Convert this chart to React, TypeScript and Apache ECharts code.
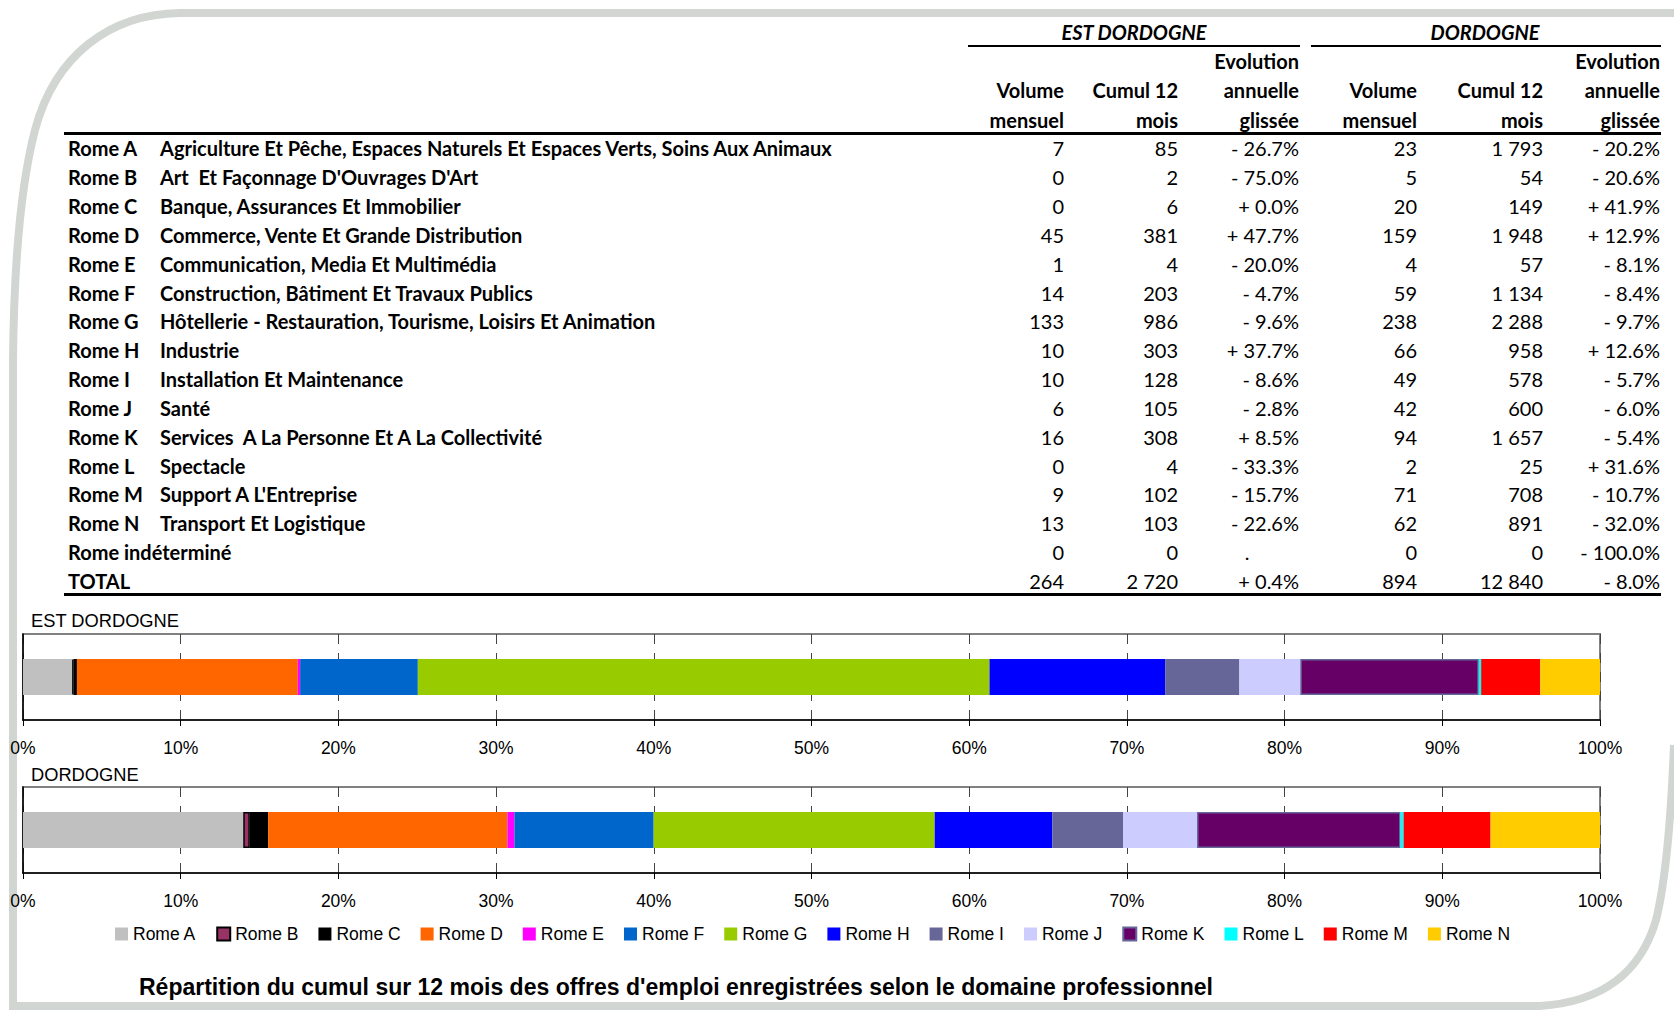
import React, { useEffect, useRef } from 'react';
import * as echarts from 'echarts';

// ---------- DATA ----------
const romeCodes = ['Rome A', 'Rome B', 'Rome C', 'Rome D', 'Rome E', 'Rome F', 'Rome G', 'Rome H', 'Rome I', 'Rome J', 'Rome K', 'Rome L', 'Rome M', 'Rome N'];
const domains = [
  'Agriculture Et Pêche, Espaces Naturels Et Espaces Verts, Soins Aux Animaux',
  "Art  Et Façonnage D'Ouvrages D'Art",
  'Banque, Assurances Et Immobilier',
  'Commerce, Vente Et Grande Distribution',
  'Communication, Media Et Multimédia',
  'Construction, Bâtiment Et Travaux Publics',
  'Hôtellerie - Restauration, Tourisme, Loisirs Et Animation',
  'Industrie',
  'Installation Et Maintenance',
  'Santé',
  'Services  A La Personne Et A La Collectivité',
  'Spectacle',
  "Support A L'Entreprise",
  'Transport Et Logistique',
];
const undeterminedLabel = 'Rome indéterminé';
const totalLabel = 'TOTAL';

// rows: Rome A..N, then Rome indéterminé
const estVolume = [7, 0, 0, 45, 1, 14, 133, 10, 10, 6, 16, 0, 9, 13, 0];
const estCumul = [85, 2, 6, 381, 4, 203, 986, 303, 128, 105, 308, 4, 102, 103, 0];
const estEvol = [-26.7, -75.0, 0.0, 47.7, -20.0, -4.7, -9.6, 37.7, -8.6, -2.8, 8.5, -33.3, -15.7, -22.6, null];
const dorVolume = [23, 5, 20, 159, 4, 59, 238, 66, 49, 42, 94, 2, 71, 62, 0];
const dorCumul = [1793, 54, 149, 1948, 57, 1134, 2288, 958, 578, 600, 1657, 25, 708, 891, 0];
const dorEvol = [-20.2, -20.6, 41.9, 12.9, -8.1, -8.4, -9.7, 12.6, -5.7, -6.0, -5.4, 31.6, -10.7, -32.0, -100.0];
const estTotal = [264, 2720, 0.4];
const dorTotal = [894, 12840, -8.0];

const groupHeaders = ['EST DORDOGNE', 'DORDOGNE'];
const colHeaders = [['', 'Volume', 'mensuel'], ['', 'Cumul 12', 'mois'], ['Evolution', 'annuelle', 'glissée']];
const chartTitle = "Répartition du cumul sur 12 mois des offres d'emploi enregistrées selon le domaine professionnel";

const romeColors = ['#c0c0c0', '#993366', '#000000', '#ff6600', '#ff00ff', '#0066cc', '#99cc00', '#0000ff', '#666699', '#ccccff', '#660066', '#00ffff', '#ff0000', '#ffcc00'];
const romeBorders: (string | null)[] = [null, '#000000', null, null, null, null, null, null, null, null, '#666699', null, null, null];

// ---------- FRAME SHAPE ----------
const frameD =
  'M1674,13 L180,13 C110,14 55,55 35,130 C22,180 14,260 13,360 L13,1006 L1540,1006 C1600,1002 1640,975 1656,920 C1666,880 1671,820 1674,745';
try {
  echarts.graphic.registerShape('frame', echarts.graphic.extendPath(frameD, {}) as any);
} catch (e) {}

const TF = 'Lato, "Open Sans", sans-serif';
const AF = '"Liberation Sans", Arial, sans-serif';
const FS = 20;

function fmtInt(n: number) {
  return String(n).replace(/\B(?=(\d{3})+(?!\d))/g, ' ');
}
function fmtEvol(v: number | null) {
  if (v === null) return '.';
  return (v >= 0 ? '+ ' : '- ') + Math.abs(v).toFixed(1) + '%';
}

function txt(text: string, x: number, y: number, o: any = {}) {
  return {
    type: 'text',
    x,
    y,
    silent: true,
    style: {
      text,
      fontFamily: o.family || TF,
      fontSize: o.size || FS,
      fontWeight: o.bold ? 'bold' : 'normal',
      fontStyle: o.italic ? 'italic' : 'normal',
      fill: o.fill || '#000',
      align: o.align || 'left',
      verticalAlign: 'middle',
    },
  };
}

function buildGraphics() {
  const g: any[] = [];
  g.push({ type: 'frame', x: 0, y: 0, silent: true, z: -10, style: { fill: 'none', stroke: '#d2d6d2', lineWidth: 8 } });

  const colRight = [1064, 1178, 1299, 1417, 1543, 1660];
  const groupCenter = [1134, 1485];
  const groupLine = [[968, 1300], [1311, 1661]];
  const headY = [61, 90, 120];

  for (let gi = 0; gi < 2; gi++) {
    g.push(txt(groupHeaders[gi], groupCenter[gi], 32, { bold: true, italic: true, align: 'center' }));
    g.push({ type: 'rect', silent: true, shape: { x: groupLine[gi][0], y: 45, width: groupLine[gi][1] - groupLine[gi][0], height: 2 }, style: { fill: '#000' } });
    for (let c = 0; c < 3; c++) {
      for (let l = 0; l < 3; l++) {
        const t = colHeaders[c][l];
        if (t) g.push(txt(t, colRight[gi * 3 + c], headY[l], { bold: true, align: 'right' }));
      }
    }
  }
  g.push({ type: 'rect', silent: true, shape: { x: 64, y: 132, width: 1597, height: 3 }, style: { fill: '#000' } });

  const rowY = (i: number) => 148.4 + i * 28.83;
  for (let i = 0; i < 15; i++) {
    const y = rowY(i);
    if (i < 14) {
      g.push(txt(romeCodes[i], 68, y, { bold: true }));
      g.push(txt(domains[i], 160, y, { bold: true }));
    } else {
      g.push(txt(undeterminedLabel, 68, y, { bold: true }));
    }
    const vals = [fmtInt(estVolume[i]), fmtInt(estCumul[i]), fmtEvol(estEvol[i]), fmtInt(dorVolume[i]), fmtInt(dorCumul[i]), fmtEvol(dorEvol[i])];
    vals.forEach((v, c) => {
      if (v === '.') g.push(txt(v, colRight[c] - 52, y, { align: 'center' }));
      else g.push(txt(v, colRight[c], y, { align: 'right' }));
    });
  }
  const ty = rowY(15);
  g.push(txt(totalLabel, 68, ty, { bold: true }));
  const tv = [fmtInt(estTotal[0]), fmtInt(estTotal[1]), fmtEvol(estTotal[2]), fmtInt(dorTotal[0]), fmtInt(dorTotal[1]), fmtEvol(dorTotal[2])];
  tv.forEach((v, c) => g.push(txt(v, colRight[c], ty, { align: 'right' })));
  g.push({ type: 'rect', silent: true, shape: { x: 64, y: 593, width: 1597, height: 3 }, style: { fill: '#000' } });

  g.push(txt(groupHeaders[0], 31, 620, { family: AF, size: 18.3 }));
  g.push(txt(groupHeaders[1], 31, 774, { family: AF, size: 18.3 }));
  return g;
}

function buildOption() {
  const sets = [estCumul.slice(0, 14), dorCumul.slice(0, 14)];
  const grids = [634, 787].map((top) => ({
    left: 23, right: 74, top, height: 86, show: true, borderColor: '#808080', borderWidth: 2,
  }));
  const xAxis = [0, 1].map((gi) => ({
    type: 'value', gridIndex: gi, min: 0, max: 100, interval: 10,
    axisLine: { show: true, lineStyle: { color: '#000', width: 1.5 } },
    axisTick: { show: true, length: 6, lineStyle: { color: '#000', width: 1 } },
    axisLabel: { formatter: '{value}%', fontFamily: AF, fontSize: 17.5, color: '#000', margin: 19 },
    splitLine: { show: true, lineStyle: { type: [10, 9], color: '#444', width: 1 } },
  }));
  const yAxis = [0, 1].map((gi) => ({
    type: 'category', gridIndex: gi, data: [groupHeaders[gi]],
    axisLine: { show: true, lineStyle: { color: '#000', width: 1.5 } },
    axisTick: { show: false }, axisLabel: { show: false }, splitLine: { show: false },
  }));
  const series: any[] = [];
  sets.forEach((vals, gi) => {
    const sum = vals.reduce((a, b) => a + b, 0);
    vals.forEach((v, k) => {
      series.push({
        type: 'bar', name: romeCodes[k], xAxisIndex: gi, yAxisIndex: gi, stack: 's' + gi,
        barWidth: 36, data: [(v / sum) * 100],
        itemStyle: romeBorders[k]
          ? { color: romeColors[k], borderColor: romeBorders[k], borderWidth: 1.5 }
          : { color: romeColors[k], borderWidth: 0 },
        emphasis: { disabled: true },
      });
    });
  });
  return {
    animation: false,
    backgroundColor: '#ffffff',
    title: { text: chartTitle, left: 134, top: 970, textStyle: { fontFamily: AF, fontWeight: 'bold', fontSize: 23, color: '#000' } },
    legend: {
      data: romeCodes, left: 110, top: 920, itemWidth: 13, itemHeight: 13, itemGap: 20, icon: 'rect', selectedMode: false,
      textStyle: { fontFamily: AF, fontSize: 17.5, color: '#000' },
    },
    grid: grids, xAxis, yAxis, series,
    graphic: buildGraphics(),
  };
}

export default function App() {
  const ref = useRef<HTMLDivElement>(null);
  useEffect(() => {
    if (!ref.current) return;
    const chart = echarts.init(ref.current, undefined, { renderer: 'svg' });
    chart.setOption(buildOption() as any);
    return () => chart.dispose();
  }, []);
  return <div ref={ref} style={{ position: 'absolute', left: 0, top: 0, width: 1674, height: 1012, background: '#fff' }} />;
}
